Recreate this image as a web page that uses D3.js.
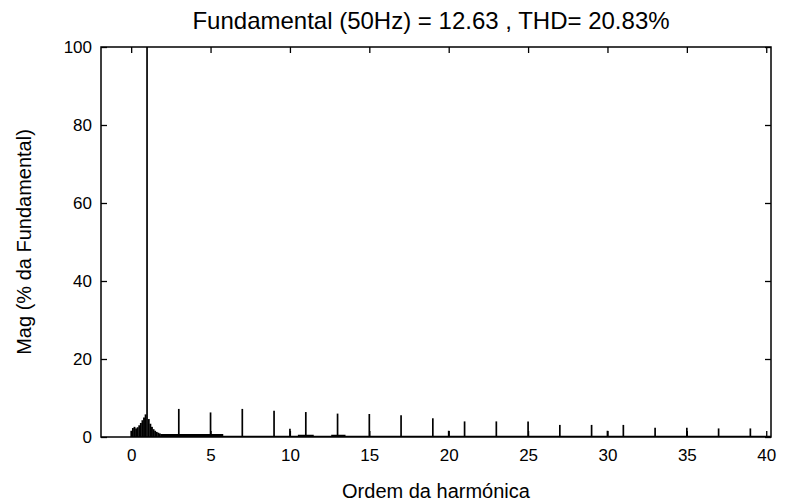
<!DOCTYPE html>
<html><head><meta charset="utf-8">
<script src="https://cdn.jsdelivr.net/npm/d3@7"></script>
<style>
html,body{margin:0;padding:0;background:#fff;}
svg text{font-family:"Liberation Sans",Arial,sans-serif;fill:#000;}
</style></head>
<body><svg id="c" width="785" height="503"></svg>
<script>
// Title / labels
const titleText = "Fundamental (50Hz) = 12.63 , THD= 20.83%";
const xLabelText = "Ordem da harmónica";
const yLabelText = "Mag (% da Fundamental)";

// Tick values
const xTicks = [0, 5, 10, 15, 20, 25, 30, 35, 40];
const yTicks = [0, 20, 40, 60, 80, 100];

// Dense spectrum around the fundamental (order, % of fundamental)
const denseOrders = [0.0,0.1,0.2,0.3,0.4,0.5,0.6,0.7,0.8,0.9,1.1,1.2,1.3,1.4,1.5,1.6,1.7,1.8];
const denseMags   = [1.6,2.3,2.6,2.2,2.5,3.0,3.6,4.3,5.0,5.8,4.6,3.4,2.6,2.0,1.6,1.3,1.1,0.9];

// Noise floor (step levels starting at each order)
const floorOrders = [1.85, 5.8, 10.5, 11.5, 12.6, 13.5, 40.3];
const floorMags   = [0.75, 0.35, 0.6, 0.35, 0.55, 0.35, 0.35];

// Harmonic spikes
const harmonicOrders = [1, 3, 5, 7, 9, 10, 11, 13, 15, 17, 19, 20, 21, 23, 25, 27, 29, 30, 31, 33, 35, 37, 39];
const harmonicMags   = [100, 7.2, 6.3, 7.2, 6.7, 2.1, 6.4, 6.0, 5.9, 5.6, 4.8, 1.6, 4.0, 4.0, 4.0, 3.1, 3.1, 1.6, 3.1, 2.4, 2.4, 2.2, 2.2];

const L = 101, R = 771, T = 47, B = 437;
const svg = d3.select("#c");
const x = d3.scaleLinear().domain([-1.9, 40.3]).range([L, R]);
const y = d3.scaleLinear().domain([0, 100]).range([B, T]);

const plot = svg.append("g");
const floorData = floorOrders.map((o, i) => [o, floorMags[i]]);
plot.append("path")
  .datum(floorData)
  .attr("d", d3.area().curve(d3.curveStepAfter).x(d => x(d[0])).y0(y(0)).y1(d => y(d[1])))
  .attr("fill", "#000");
const binW = x(0.1) - x(0);
plot.selectAll("rect.dense").data(denseOrders.map((o, i) => [o, denseMags[i]]))
  .join("rect").attr("class", "dense")
  .attr("x", d => x(d[0]) - binW / 2)
  .attr("width", binW + 0.3)
  .attr("y", d => y(d[1]))
  .attr("height", d => y(0) - y(d[1]))
  .attr("fill", "#000");
plot.selectAll("line.spike").data(harmonicOrders.map((o, i) => [o, harmonicMags[i]]))
  .join("line").attr("class", "spike")
  .attr("x1", d => x(d[0])).attr("x2", d => x(d[0]))
  .attr("y1", y(0)).attr("y2", d => y(d[1]))
  .attr("stroke", "#000").attr("stroke-width", 1.7);

const fs = "17px";
const axB = svg.append("g").attr("transform", `translate(0,${B})`)
  .call(d3.axisBottom(x).tickValues(xTicks).tickSizeInner(-6).tickSizeOuter(0).tickPadding(12));
const axT = svg.append("g").attr("transform", `translate(0,${T})`)
  .call(d3.axisTop(x).tickValues(xTicks).tickSizeInner(-6).tickSizeOuter(0).tickFormat(""));
const axL = svg.append("g").attr("transform", `translate(${L},0)`)
  .call(d3.axisLeft(y).tickValues(yTicks).tickSizeInner(-6).tickSizeOuter(0).tickPadding(9));
const axR = svg.append("g").attr("transform", `translate(${R},0)`)
  .call(d3.axisRight(y).tickValues(yTicks).tickSizeInner(-6).tickSizeOuter(0).tickFormat(""));
[axB, axT, axL, axR].forEach(a => {
  a.select(".domain").remove();
  a.selectAll(".tick line").attr("stroke", "#000").attr("stroke-width", 1.3);
  a.selectAll(".tick text").attr("font-size", fs).attr("font-family", "Liberation Sans, Arial, sans-serif");
});
svg.append("rect").attr("x", L).attr("y", T).attr("width", R - L).attr("height", B - T)
  .attr("fill", "none").attr("stroke", "#000").attr("stroke-width", 1.5);

svg.append("text").attr("x", 431).attr("y", 29).attr("text-anchor", "middle")
  .attr("font-size", "24px").text(titleText);
svg.append("text").attr("x", (L + R) / 2).attr("y", 498).attr("text-anchor", "middle")
  .attr("font-size", "20px").text(xLabelText);
svg.append("text").attr("transform", `translate(31,${(T + B) / 2}) rotate(-90)`).attr("text-anchor", "middle")
  .attr("font-size", "20px").text(yLabelText);
</script></body></html>
